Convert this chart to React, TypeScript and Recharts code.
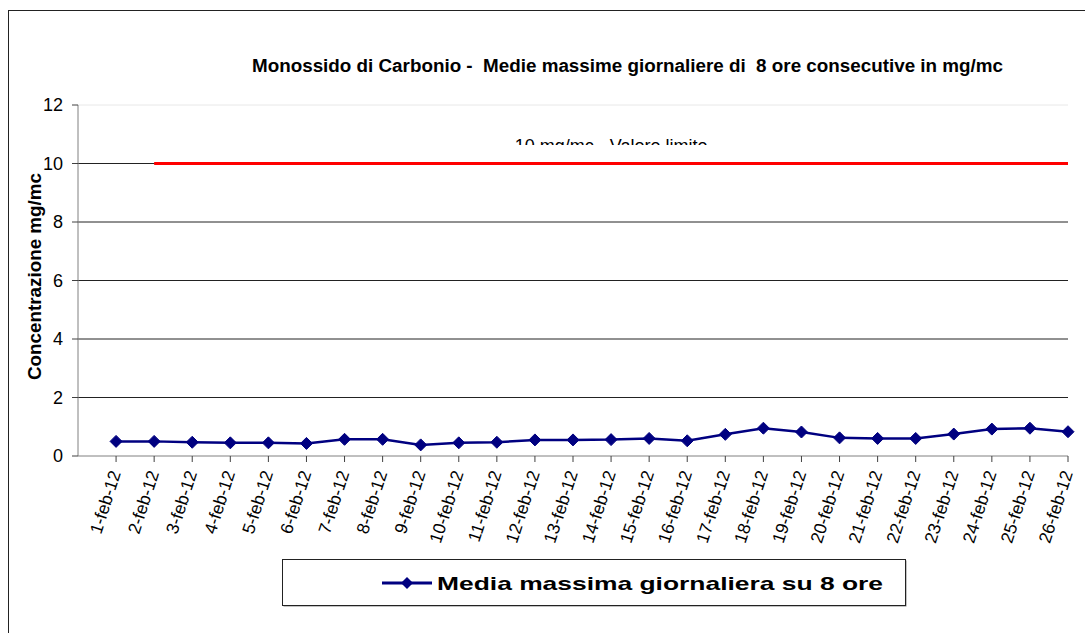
import React from "react";
import {
  LineChart,
  Line,
  XAxis,
  YAxis,
  CartesianGrid,
  ReferenceLine,
  Legend,
} from "recharts";

const FONT = "Arial, 'Liberation Sans', sans-serif";

const categories = [
  "1-feb-12", "2-feb-12", "3-feb-12", "4-feb-12", "5-feb-12", "6-feb-12", "7-feb-12",
  "8-feb-12", "9-feb-12", "10-feb-12", "11-feb-12", "12-feb-12", "13-feb-12", "14-feb-12",
  "15-feb-12", "16-feb-12", "17-feb-12", "18-feb-12", "19-feb-12", "20-feb-12", "21-feb-12",
  "22-feb-12", "23-feb-12", "24-feb-12", "25-feb-12", "26-feb-12",
];

const mediaMassima = [
  0.5, 0.5, 0.47, 0.45, 0.45, 0.43, 0.57, 0.57, 0.38, 0.45, 0.47, 0.55, 0.55,
  0.56, 0.6, 0.52, 0.74, 0.95, 0.82, 0.62, 0.6, 0.6, 0.75, 0.92, 0.95, 0.83,
];

const yTicks = [0, 2, 4, 6, 8, 10, 12];
const gridValues = [2, 4, 6, 8, 10];
const LIMIT = 10;
const LIMIT_FROM = 2; // la linea del limite parte dal 2 febbraio
const LIMIT_LABEL = "10 mg/mc - Valore limite";
const SERIES_NAME = "Media massima giornaliera su 8 ore";
const TITLE = "Monossido di Carbonio -  Medie massime giornaliere di  8 ore consecutive in mg/mc";

const days = categories.map((_, i) => i + 1);
const data = categories.map((label, i) => ({ day: i + 1, label, value: mediaMassima[i] }));

const NAVY = "#000080";

function Diamond({ cx, cy }: any) {
  if (cx == null || cy == null) return null;
  return (
    <polygon
      points={`${cx},${cy - 6} ${cx + 6},${cy} ${cx},${cy + 6} ${cx - 6},${cy}`}
      fill={NAVY}
      stroke={NAVY}
    />
  );
}

function DayTick({ x, y, payload }: any) {
  const label = categories[payload.value - 1] ?? "";
  return (
    <text
      transform={`translate(${x + 5},${y + 9}) rotate(-72)`}
      textAnchor="end"
      fontFamily={FONT}
      fontSize={17.5}
      fill="#000"
    >
      {label}
    </text>
  );
}

function LimitLabel({ viewBox }: any) {
  if (!viewBox) return null;
  const cx = viewBox.x + viewBox.width / 2;
  const clipBottom = viewBox.y - 18.5;
  return (
    <g>
      <defs>
        <clipPath id="limit-clip">
          <rect x={cx - 150} y={clipBottom - 40} width={300} height={40} />
        </clipPath>
      </defs>
      <text
        x={cx}
        y={viewBox.y - 12}
        textAnchor="middle"
        fontFamily={FONT}
        fontSize={18}
        fill="#000"
        clipPath="url(#limit-clip)"
      >
        {LIMIT_LABEL}
      </text>
    </g>
  );
}

function YLabel({ viewBox }: any) {
  if (!viewBox) return null;
  const cy = viewBox.y + viewBox.height / 2 - 4;
  return (
    <text
      transform={`translate(${viewBox.x + 41},${cy}) rotate(-90)`}
      textAnchor="middle"
      fontFamily={FONT}
      fontWeight="bold"
      fontSize={19}
      textLength={207}
      lengthAdjust="spacingAndGlyphs"
      fill="#000"
    >
      Concentrazione mg/mc
    </text>
  );
}

function LegendBox({ payload }: any) {
  const item = payload && payload[0];
  const color = item?.color ?? NAVY;
  return (
    <svg width={625} height={48} style={{ display: "block", overflow: "visible" }}>
      <rect x={1.5} y={1.5} width={623} height={46} fill="#888" />
      <rect x={0.5} y={0.5} width={623} height={46} fill="#fff" stroke="#222" />
      <line x1={100} y1={24} x2={150} y2={24} stroke={color} strokeWidth={3} />
      <polygon points="125,18 131,24 125,30 119,24" fill={color} />
      <text
        x={155}
        y={31}
        fontFamily={FONT}
        fontWeight="bold"
        fontSize={19}
        textLength={446}
        lengthAdjust="spacingAndGlyphs"
        fill="#000"
      >
        {item?.value ?? SERIES_NAME}
      </text>
    </svg>
  );
}

export default function App() {
  return (
    <div
      style={{
        position: "fixed",
        left: 0,
        top: 0,
        width: 1085,
        height: 633,
        overflow: "hidden",
        background: "#fff",
      }}
    >
      <div
        style={{
          position: "absolute",
          left: 8,
          top: 10,
          width: 1200,
          height: 800,
          border: "1px solid #222",
        }}
      />
      <div style={{ position: "absolute", left: 0, top: 0 }}>
        <LineChart
          width={1085}
          height={633}
          data={data}
          margin={{ top: 105, right: 17, left: 0, bottom: 0 }}
        >
          <text
            x={252}
            y={72}
            fontFamily={FONT}
            fontWeight="bold"
            fontSize={18}
            textLength={751}
            lengthAdjust="spacingAndGlyphs"
            style={{ whiteSpace: "pre" }}
            fill="#000"
          >
            {TITLE}
          </text>
          <CartesianGrid
            vertical={false}
            horizontalValues={gridValues}
            stroke="#222"
            strokeWidth={1}
          />
          <ReferenceLine y={12} stroke="#e8e8e8" />
          <XAxis
            dataKey="day"
            type="number"
            domain={[0, categories.length]}
            ticks={days}
            interval={0}
            height={177}
            tickSize={6}
            tick={<DayTick />}
            axisLine={{ stroke: "#808080" }}
            tickLine={{ stroke: "#404040" }}
          />
          <YAxis
            type="number"
            domain={[0, 12]}
            ticks={yTicks}
            width={78}
            tickSize={6}
            tickMargin={9}
            tick={{ fontFamily: FONT, fontSize: 18, fill: "#000" }}
            axisLine={{ stroke: "#808080" }}
            tickLine={{ stroke: "#404040" }}
            label={<YLabel />}
          />
          <ReferenceLine
            segment={[
              { x: LIMIT_FROM, y: LIMIT },
              { x: categories.length, y: LIMIT },
            ]}
            stroke="#ff0000"
            strokeWidth={3}
            label={<LimitLabel />}
          />
          <Line
            type="linear"
            dataKey="value"
            name={SERIES_NAME}
            stroke={NAVY}
            strokeWidth={2.5}
            dot={<Diamond />}
            activeDot={false}
            isAnimationActive={false}
          />
          <Legend
            layout="horizontal"
            verticalAlign="middle"
            align="center"
            wrapperStyle={{ left: 282, top: 559, width: 625, height: 48 }}
            content={<LegendBox />}
          />
        </LineChart>
      </div>
    </div>
  );
}
